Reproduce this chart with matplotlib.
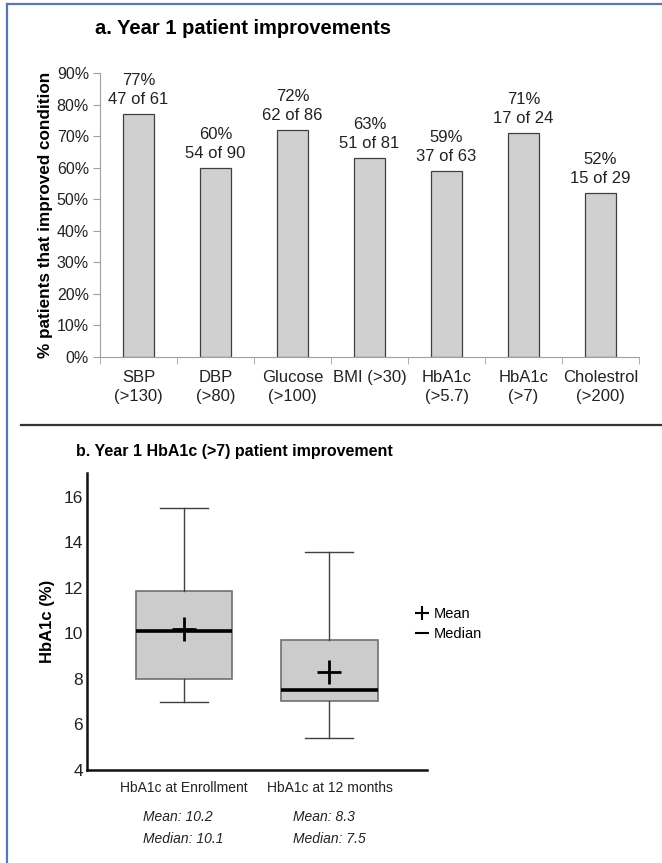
import matplotlib
matplotlib.use("Agg")
import matplotlib.pyplot as plt
from matplotlib.lines import Line2D

# figure size in pixels (dpi 100)
W, H = 662, 863

# panel a data
categories = ["SBP\n(>130)", "DBP\n(>80)", "Glucose\n(>100)", "BMI (>30)",
              "HbA1c\n(>5.7)", "HbA1c\n(>7)", "Cholestrol\n(>200)"]
pct_improved = [77, 60, 72, 63, 59, 71, 52]
n_improved = [47, 54, 62, 51, 37, 17, 15]
n_total = [61, 90, 86, 81, 63, 24, 29]
yticks_a = [0, 10, 20, 30, 40, 50, 60, 70, 80, 90]

# panel b data
box_labels = ["HbA1c at Enrollment", "HbA1c at 12 months"]
box_whislo = [7.0, 5.4]
box_q1 = [8.0, 7.05]
box_med = [10.1, 7.5]
box_mean = [10.2, 8.3]
box_q3 = [11.85, 9.7]
box_whishi = [15.5, 13.6]
yticks_b = [4, 6, 8, 10, 12, 14, 16]

plt.rcParams['font.family'] = ['Liberation Sans', 'DejaVu Sans']


def px_axes(fig, left, top, right, bottom):
    """Add an axes given in pixel coordinates (origin top-left)."""
    return fig.add_axes([left / W, 1 - bottom / H, (right - left) / W, (bottom - top) / H])


fig = plt.figure(figsize=(W / 100, H / 100), dpi=100)

# blue frame (left and top only) and separator
fig.add_artist(Line2D([7 / W, 7 / W], [0, 1 - 4 / H], color="#5a78b0", lw=1.6))
fig.add_artist(Line2D([7 / W, 1], [1 - 4 / H, 1 - 4 / H], color="#5a78b0", lw=1.6))
fig.add_artist(Line2D([21 / W, 1], [1 - 425 / H, 1 - 425 / H], color="#333333", lw=1.6))

#
# PANEL A
#
fig.text(95 / W, 1 - 28 / H, "a. Year 1 patient improvements", fontsize=14.5,
         fontweight="bold", ha="left", va="center")

ax = px_axes(fig, 100, 73, 639, 357)
x = list(range(len(categories)))
bars = ax.bar(x, pct_improved, width=0.4, color="#d0d0d0", edgecolor="#404040", linewidth=0.9)
for xi, p, ni, nt in zip(x, pct_improved, n_improved, n_total):
    ax.annotate("{0}%\n{1} of {2}".format(p, ni, nt), (xi, p), xytext=(0, 5),
                textcoords="offset points", ha="center", va="bottom",
                fontsize=12, color="#222222", linespacing=1.35)
ax.set_xlim(-0.5, len(categories) - 0.5)
ax.set_ylim(0, 90)
ax.set_yticks(yticks_a)
ax.set_yticklabels(["{0}%".format(t) for t in yticks_a], fontsize=11.5, color="#222222")
ax.set_xticks(x)
ax.set_xticklabels(categories, fontsize=12, color="#222222", linespacing=1.35)
ax.set_xticks([i - 0.5 for i in range(len(categories) + 1)], minor=True)
ax.tick_params(axis="x", which="major", length=0, pad=9)
ax.tick_params(axis="x", which="minor", length=5, color="#a0a0a0", direction="out")
ax.tick_params(axis="y", length=5, color="#a0a0a0", pad=3)
for s in ["top", "right"]:
    ax.spines[s].set_visible(False)
for s in ["left", "bottom"]:
    ax.spines[s].set_color("#a0a0a0")
ax.set_ylabel("% patients that improved condition", fontsize=12.3, fontweight="bold")
ax.yaxis.set_label_coords(-0.088, 0.5)

#
# PANEL B
#
fig.text(76 / W, 1 - 451 / H, "b. Year 1 HbA1c (>7) patient improvement", fontsize=11.5,
         fontweight="bold", ha="left", va="center")

bx = px_axes(fig, 87, 473, 427, 770)
stats = []
for i in range(len(box_labels)):
    stats.append(dict(label=box_labels[i], whislo=box_whislo[i], q1=box_q1[i], med=box_med[i],
                      mean=box_mean[i], q3=box_q3[i], whishi=box_whishi[i], fliers=[]))
bx.bxp(stats, positions=[1, 2], widths=0.66, capwidths=0.33, showmeans=True, patch_artist=True,
       boxprops=dict(facecolor="#cccccc", edgecolor="#707070", linewidth=1.2),
       medianprops=dict(color="black", linewidth=2.6),
       whiskerprops=dict(color="#404040", linewidth=1.0),
       capprops=dict(color="#404040", linewidth=1.0),
       meanprops=dict(marker="+", markersize=17, markeredgewidth=2, markeredgecolor="black"))
bx.set_xlim(0.334, 2.67)
bx.set_ylim(4, 17.05)
bx.set_yticks(yticks_b)
bx.set_yticklabels([str(t) for t in yticks_b], fontsize=12.5, color="#222222")
bx.set_xticks([1, 2])
bx.set_xticklabels(box_labels, fontsize=10, color="#222222")
bx.tick_params(axis="y", length=0, pad=3)
bx.tick_params(axis="x", length=0, pad=8)
for s in ["top", "right"]:
    bx.spines[s].set_visible(False)
for s in ["left", "bottom"]:
    bx.spines[s].set_linewidth(1.8)
    bx.spines[s].set_color("#111111")
bx.set_ylabel("HbA1c (%)", fontsize=12, fontweight="bold")
bx.yaxis.set_label_coords(-0.093, 0.5)

# mean / median notes under the boxes
for xpos, m, md in [(143, box_mean[0], box_med[0]), (293, box_mean[1], box_med[1])]:
    fig.text(xpos / W, 1 - 828 / H, "Mean: {0}\nMedian: {1}".format(m, md), fontsize=10,
             style="italic", ha="left", va="center", linespacing=1.65, color="#222222")

# legend
handles = [Line2D([], [], ls="none", marker="+", markersize=10, markeredgewidth=1.5, color="black"),
           Line2D([], [], ls="none", marker="_", markersize=10, markeredgewidth=1.5, color="black")]
fig.legend(handles, ["Mean", "Median"], loc="center left", bbox_to_anchor=(403 / W, 1 - 624 / H),
           frameon=False, handlelength=0.8, handletextpad=0.4, labelspacing=0.4,
           prop=dict(size=10.5))

fig.savefig("out.png", dpi=100)
